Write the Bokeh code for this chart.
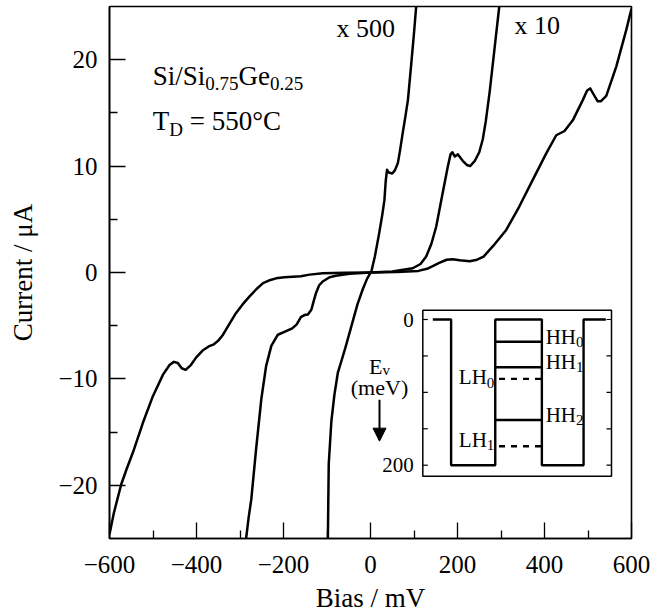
from bokeh.plotting import figure
from bokeh.models import Range1d, FixedTicker, Arrow, NormalHead
from bokeh.core.properties import value
from bokeh.embed import file_html
from bokeh.resources import INLINE

# ---------------- data ----------------
# unscaled I-V curve (mV, uA)
bias_1 = [-600, -590, -573, -560, -546, -523, -500, -477, -462, -452,
          -443, -434, -425, -413, -401, -385, -372, -360, -350, -339,
          -324, -309, -294, -278, -262, -247, -230, -217, -198, -179,
          -160, -140, -110, -60, 0, 60, 110, 130, 143, 158,
          175, 189, 205, 228, 245, 260, 281, 312, 342, 373,
          404, 427, 446, 465, 488, 498, 505, 512, 522, 530,
          542, 565, 588, 600]
cur_1 = [-24.6, -22.6, -19.9, -18.4, -16.9, -14.1, -11.6, -9.6, -8.7, -8.4,
         -8.5, -9.0, -9.15, -8.7, -8.0, -7.3, -6.95, -6.75, -6.4, -5.85,
         -4.8, -3.8, -3.0, -2.25, -1.55, -1.0, -0.7, -0.55, -0.45, -0.4,
         -0.35, -0.2, -0.08, -0.03, 0.0, 0.05, 0.15, 0.35, 0.6, 0.9,
         1.2, 1.25, 1.15, 1.05, 1.2, 1.5, 2.45, 4.0, 6.2, 8.7,
         11.2, 12.9, 13.3, 14.3, 16.2, 17.1, 17.3, 16.8, 16.1, 16.1,
         16.6, 19.35, 22.8, 24.8]

# x 10 curve
bias_10 = [-286, -280, -274, -263, -251, -240, -228, -213, -194, -180,
           -170, -160, -152, -144, -136, -130, -125, -118, -110, -94,
           -80, -48, 0, 50, 97, 115, 128, 140, 151, 166,
           178, 184, 188, 194, 201, 212, 222, 229, 240, 250,
           258, 265, 274, 285, 296]
cur_10 = [-25, -23, -21.3, -16.6, -11.9, -8.8, -6.9, -5.85, -5.5, -5.25,
          -4.9, -4.2, -4.0, -3.95, -3.5, -2.6, -1.9, -1.2, -0.85, -0.45,
          -0.3, -0.12, 0.0, 0.1, 0.4, 0.8, 1.5, 2.7, 4.3, 7.5,
          10.0, 11.1, 11.3, 10.9, 11.1, 10.5, 10.1, 10.0, 10.5, 11.3,
          12.5, 14.2, 17.0, 21.0, 25.0]

# x 500 curve
bias_500 = [-98, -96, -90, -83, -75, -66, -58, -45, -30, -18,
            -8, 2, 10, 20, 27, 32, 35, 38, 42, 50,
            56, 63, 68, 74, 80, 86, 93, 100, 105]
cur_500 = [-25, -18, -14, -11.5, -9.4, -8.2, -7.1, -5.2, -3.0, -1.6,
           -0.6, 0.1, 1.5, 3.7, 5.4, 6.8, 8.6, 9.65, 9.4, 9.3,
           9.6, 10.3, 11.5, 13.1, 14.6, 16.2, 19.3, 22.5, 25]

x_ticks = [-600, -400, -200, 0, 200, 400, 600]
x_minor = [-500, -300, -100, 100, 300, 500]
x_tick_labels = ["\u2212600", "\u2212400", "\u2212200", "0", "200", "400", "600"]
y_ticks = [-20, -10, 0, 10, 20]
y_minor = [-15, -5, 5, 15]
y_tick_labels = ["\u221220", "\u221210", "0", "10", "20"]

# inset: valence band profile (position a.u. 0..100, energy meV)
well_pos = [5.3, 15, 15, 38.4, 38.4, 63.1, 63.1, 85.2, 85.2, 97]
well_ev = [0, 0, 200, 200, 0, 0, 200, 200, 0, 0]
hh_sub = ["0", "1", "2"]
hh_levels = [30.6, 65.5, 138]
lh_sub = ["0", "1"]
lh_levels = [81.5, 174]
inset_ticks = [0, 50, 100, 150, 200]
inset_tick_labels = ["0", "", "", "", "200"]

# ---------------- layout constants (page pixels) ----------------
FONT = "Liberation Serif"
ORIGIN = 1
FR_L, FR_R, FR_T, FR_B = 110, 632, 7, 539
IN_L, IN_R = 423.3, 612.0          # inset x 0..100
IN_Y0, IN_Y200 = 320.0, 465.7      # inset 0 and 200 meV
IN_TOP, IN_BOT = 310.7, 476.7

ux = 100.0 / (IN_R - IN_L)
uy = 200.0 / (IN_Y200 - IN_Y0)

W = {"S": .556, "i": .278, "/": .278, "G": .722, "e": .444, "0": .5, ".": .25,
     "7": .5, "5": .5, "2": .5, "1": .5, "T": .611, "D": .722, "H": .722,
     "L": .611, "E": .611, "v": .5, " ": .25, "=": .564, "\u00b0": .4, "C": .667}


def tw(s, size):
    return sum(W.get(c, .5) for c in s) * size


p = figure(frame_width=FR_R - FR_L, frame_height=FR_B - FR_T,
           min_border_left=FR_L - ORIGIN, min_border_right=20,
           min_border_top=FR_T - ORIGIN, min_border_bottom=60,
           x_range=Range1d(-600, 600), y_range=Range1d(-25, 25),
           output_backend="svg", toolbar_location=None,
           background_fill_color="white", border_fill_color="white")
p.extra_x_ranges = {"inset": Range1d(0 - (IN_L - FR_L) * ux, 100 + (FR_R - IN_R) * ux)}
p.extra_y_ranges = {"inset": Range1d((FR_B - IN_Y0) * uy, -(IN_Y0 - FR_T) * uy)}

p.grid.visible = False
p.outline_line_color = "black"
p.outline_line_width = 1.6
p.outline_line_alpha = 1.0

p.xaxis.ticker = FixedTicker(ticks=x_ticks, minor_ticks=x_minor)
p.yaxis.ticker = FixedTicker(ticks=y_ticks, minor_ticks=y_minor)
p.xaxis.major_label_overrides = dict(zip(x_ticks, x_tick_labels))
p.yaxis.major_label_overrides = dict(zip(y_ticks, y_tick_labels))
for ax in (p.xaxis[0], p.yaxis[0]):
    ax.major_tick_in = 16
    ax.major_tick_out = 0
    ax.minor_tick_in = 8
    ax.minor_tick_out = 0
    ax.major_tick_line_color = "black"
    ax.minor_tick_line_color = "black"
    ax.major_tick_line_width = 1.3
    ax.minor_tick_line_width = 1.3
    ax.axis_line_color = "black"
    ax.axis_line_width = 1.6
    ax.major_label_text_font = FONT
    ax.major_label_text_font_size = "25px"
    ax.major_label_text_color = "black"
    ax.axis_label_text_font = FONT
    ax.axis_label_text_font_size = "27px"
    ax.axis_label_text_font_style = "normal"
    ax.axis_label_text_color = "black"
p.xaxis.axis_label = "Bias / mV"
p.yaxis.axis_label = "Current / \u03bcA"
p.xaxis.major_label_standoff = 17
p.xaxis.axis_label_standoff = 7
p.yaxis.major_label_standoff = 12
p.yaxis.axis_label_standoff = 17

# curves
for bx, cy in ((bias_1, cur_1), (bias_10, cur_10), (bias_500, cur_500)):
    p.line(bx, cy, line_color="black", line_width=2.5, line_join="round")


def put(x, y, s, size, align="left", xoff=0.0, baseline="alphabetic", inset=False):
    kw = {}
    if inset:
        kw = dict(x_range_name="inset", y_range_name="inset")
    p.text(x=[x], y=[y], text=[s], text_font=value(FONT),
           text_font_size=value(f"{size}px"), text_color="black",
           text_align=align, text_baseline=baseline, x_offset=xoff, **kw)


# main annotations
BIG, SUB = 27, 19
x0, y0 = -500.5, 18.5
drop = 0.75
off = 0.0
for s, sz, dy in (("Si/Si", BIG, 0), ("0.75", SUB, drop), ("Ge", BIG, 0), ("0.25", SUB, drop)):
    put(x0, y0 - dy, s, sz, xoff=off)
    off += tw(s, sz)
x0, y0 = -500.5, 14.2
put(x0, y0, "T", BIG)
put(x0, y0 - drop, "D", SUB, xoff=tw("T", BIG))
put(x0, y0, "= 550\u00b0C", BIG, xoff=tw("T", BIG) + tw("D", SUB) + tw(" ", BIG))
put(-78, 22.9, "x 500", 26)
put(331, 23.2, "x 10", 26)

# ---------------- inset ----------------
ik = dict(x_range_name="inset", y_range_name="inset")
p.quad(left=[0], right=[100], top=[(IN_TOP - IN_Y0) * uy], bottom=[(IN_BOT - IN_Y0) * uy],
       fill_color="white", line_color="black", line_width=1.5, **ik)
tick_len = 5 * ux
p.segment(x0=[0] * len(inset_ticks), x1=[tick_len] * len(inset_ticks),
          y0=inset_ticks, y1=inset_ticks, line_color="black", line_width=1.2, **ik)
p.segment(x0=[100] * len(inset_ticks), x1=[100 - tick_len] * len(inset_ticks),
          y0=inset_ticks, y1=inset_ticks, line_color="black", line_width=1.2, **ik)
p.text(x=[0] * len(inset_ticks), y=inset_ticks, text=inset_tick_labels,
       text_font=value(FONT), text_font_size=value("21px"), text_color="black",
       text_align="right", text_baseline="middle", x_offset=-9, **ik)

p.line(well_pos, well_ev, line_color="black", line_width=2.4, **ik)
wl, wr = well_pos[3], well_pos[5]
p.segment(x0=[wl] * len(hh_levels), x1=[wr] * len(hh_levels), y0=hh_levels, y1=hh_levels,
          line_color="black", line_width=2.4, **ik)
p.segment(x0=[wl + 2] * len(lh_levels), x1=[wr] * len(lh_levels), y0=lh_levels, y1=lh_levels,
          line_color="black", line_width=2.4, line_dash="6 6", **ik)

LAB, LSUB = 21, 15
sub_drop = 7
for s, lv in zip(hh_sub, hh_levels):
    yc = lv - 7
    put(wr + 2.0, yc, "HH", LAB, baseline="middle", inset=True)
    put(wr + 2.0, yc + sub_drop, s, LSUB, baseline="middle", xoff=tw("HH", LAB), inset=True)
for s, lv, dy in zip(lh_sub, lh_levels, (2, 9)):
    yc = lv - dy
    put(wl - 0.5, yc + sub_drop, s, LSUB, align="right", baseline="middle", inset=True)
    put(wl - 0.5, yc, "LH", LAB, align="right", baseline="middle", xoff=-tw("0", LSUB), inset=True)

# E_v (meV) with arrow
ex = (380 - IN_L) * ux
ew = tw("E", 22) + tw("v", 15)
put(ex, 64, "E", 22, align="left", xoff=-ew / 2, inset=True)
put(ex, 70, "v", 15, align="left", xoff=-ew / 2 + tw("E", 22), inset=True)
put(ex, 94, "(meV)", 22, align="center", baseline="middle", inset=True)
p.add_layout(Arrow(end=NormalHead(size=13, fill_color="black", line_color="black"),
                   x_start=ex, y_start=110, x_end=ex, y_end=167,
                   line_color="black", line_width=2, **ik))

open("out.html", "w").write(file_html(p, INLINE))
